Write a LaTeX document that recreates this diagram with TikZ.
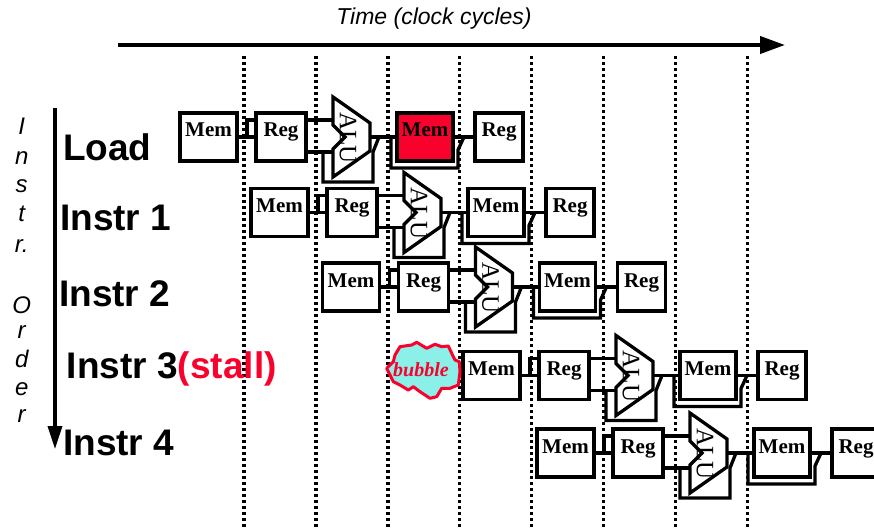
\documentclass[tikz,border=0pt]{standalone}
\usepackage{fontspec}
\setmainfont{Liberation Serif}
\setsansfont{Liberation Sans}
\usetikzlibrary{arrows.meta,calc}
\definecolor{stallred}{RGB}{250,0,45}
\definecolor{bubblefill}{RGB}{138,240,232}
\tikzset{
  unitbox/.style={draw, line width=3.3pt, fill=white, minimum width=#1, minimum height=48pt,
    inner sep=0pt, text height=13pt, text depth=13pt,
    font=\fontsize{21}{21}\selectfont\bfseries},
  wire/.style={line width=3.3pt, line join=miter},
  alutext/.style={rotate=-90, inner sep=0pt, font=\fontsize{25}{25}\selectfont},
  dotline/.style={line width=3.4pt, dash pattern=on 3pt off 3pt},
  rowlbl/.style={anchor=base west, inner sep=0pt, font=\sffamily\bfseries\fontsize{37}{37}\selectfont},
  ordtxt/.style={anchor=base, inner sep=0pt, font=\sffamily\itshape\fontsize{24}{24}\selectfont},
  axis/.style={line width=4pt},
}
\newcommand\piperow[4]{%
  \node[unitbox=57pt] (#1m1) at ({#2+28.5},#3) {Mem};
  \node[unitbox=50pt] (#1r1) at ({#2+101},#3) {Reg};
  \node[unitbox=56pt, fill=#4] (#1m2) at ({#2+245},#3) {Mem};
  \node[unitbox=48pt] (#1r2) at ({#2+319},#3) {Reg};
  \coordinate (#1ia) at ({#2+153},{#3-17});
  \coordinate (#1ib) at ({#2+153},{#3+15});
  \coordinate (#1ao) at ({#2+190},#3);
  % shadows
  \draw[wire] ({#2+143},{#3+15}) |- ({#2+193},{#3+45}) -- ({#2+193},{#3+15}) -- ({#2+199},#3);
  \draw[wire] ({#2+211},#3) |- ({#2+278},{#3+31}) -- ({#2+278},{#3+13}) -- ({#2+284},#3);
  % connectors
  \draw[wire] (#1m1.east) -- (#1r1.west);
  \draw[wire] ({#2+67},#3) |- ($(#1r1.west)+(0,-17)$);
  \draw[wire] (#1r1.east |- #1ia) -- (#1ia);
  \draw[wire] (#1r1.east |- #1ib) -- (#1ib);
  \draw[wire] (#1ao) -- (#1m2.west);
  \draw[wire] (#1m2.east) -- (#1r2.west);
  % ALU
  \draw[wire, fill=white] ({#2+153},{#3-40}) -- ({#2+190},{#3-14}) -- ({#2+190},{#3+14})
     -- ({#2+153},{#3+40}) -- ({#2+153},{#3+12}) -- ({#2+165},#3) -- ({#2+153},{#3-12}) -- cycle;
  \node[alutext] (#1alu) at ({#2+168},{#3+1}) {ALU};
}
\begin{document}
\begin{tikzpicture}[x=1pt,y=-1pt]
\useasboundingbox (0,0) rectangle (874,529);
% dotted cycle lines
\foreach \i in {0,...,7} \draw[dotline] ({244+71.9*\i},56) -- ({244+71.9*\i},529);
% time axis
\coordinate (tstart) at (118,45);
\coordinate (tend) at (785,45);
\draw[axis, -{Triangle[length=25pt,width=17pt]}] (tstart) -- (tend);
\node[font=\sffamily\itshape\fontsize{23}{23}\selectfont] (timelbl) at (434,19) {Time (clock cycles)};
% instruction order axis
\coordinate (otop) at (55,108);
\coordinate (obot) at (55,449);
\draw[line width=3.5pt, -{Triangle[length=23pt,width=14pt]}] (otop) -- (obot);
\foreach \ch/\yy [count=\i] in {I/135,n/165,s/193,t/222,r./252,O/313,r/338,d/367,e/395,r/422}
  \node[ordtxt] (ord\i) at (21.7,\yy) {\ch};
% row labels
\node[rowlbl] (lload) at (63,160.7) {Load};
\node[rowlbl] (lone) at (60,230) {Instr 1};
\node[rowlbl] (ltwo) at (59,306.7) {Instr 2};
\node[rowlbl] (lthree) at (66.7,378) {Instr 3\textcolor{stallred}{(stall)}};
\node[rowlbl] (lfour) at (63,455) {Instr 4};
% pipeline rows
\piperow{L}{180}{137}{stallred}
\piperow{A}{251}{212.5}{white}
\piperow{B}{322.5}{287}{white}
\piperow{C}{463}{375.5}{white}
\piperow{D}{537}{453}{white}
% bubble
\draw[line width=3pt, draw=stallred, fill=bubblefill, line join=round]
  (395,355) -- (400,346.7) -- (411.7,345) -- (416.7,342.3) -- (426.7,348.3) -- (435,344.3)
  -- (441.7,346.7) -- (448.3,346) -- (451.7,353.3) -- (455,360) -- (459.3,361.7) -- (460,371.7)
  -- (458.3,385) -- (450,388.3) -- (441.7,388.3) -- (436.7,396.7) -- (430,398.3) -- (420,391.7)
  -- (413.3,386.7) -- (408.3,390) -- (400,385) -- (393.3,381.7) -- (386.7,368.3) -- (393.3,361.7) -- cycle;
\node[anchor=base, inner sep=0pt, text=stallred, font=\bfseries\itshape\fontsize{20}{20}\selectfont] (bub) at (421,376) {bubble};
\end{tikzpicture}
\end{document}
